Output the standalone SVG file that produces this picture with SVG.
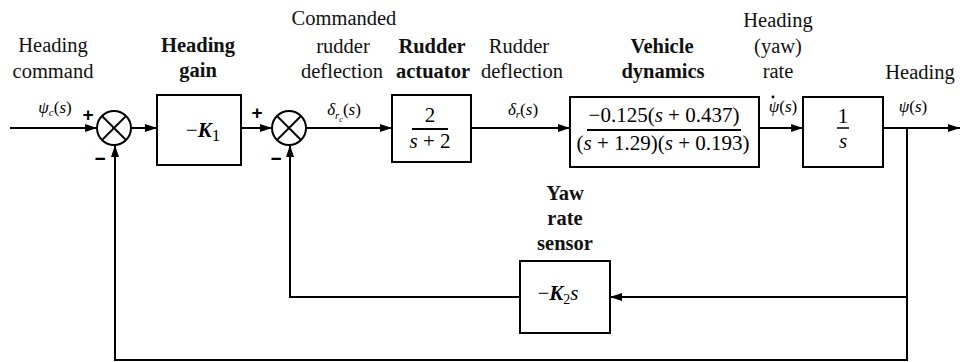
<svg xmlns="http://www.w3.org/2000/svg" width="966" height="362" viewBox="0 0 966 362">
<defs>
<marker id="arr" markerWidth="12" markerHeight="8" refX="12" refY="4" orient="auto" markerUnits="userSpaceOnUse">
<path d="M0,0 L12,4 L0,8 Z" fill="#000"/>
</marker>
<style>
.box{fill:#fff;stroke:#000;stroke-width:2}
.ln{fill:none;stroke:#000;stroke-width:2}
.lab{font-family:"Liberation Serif","Times New Roman",serif;font-size:20.5px;fill:#111;text-anchor:middle}
.b{font-weight:bold}
.m{font-family:"Liberation Serif","Times New Roman",serif;font-size:17px;font-style:italic;fill:#000;text-anchor:middle}
.tf{font-family:"Liberation Serif","Times New Roman",serif;font-size:21px;fill:#000;text-anchor:middle}
.sg{font-family:"Liberation Sans",Arial,sans-serif;font-size:19px;font-weight:bold;fill:#000;text-anchor:middle}
</style>
</defs>
<rect width="966" height="362" fill="#fff"/>

<g id="connectors">
<line class="ln" x1="10" y1="128" x2="97" y2="128" marker-end="url(#arr)"/>
<line class="ln" x1="131" y1="128" x2="157" y2="128" marker-end="url(#arr)"/>
<line class="ln" x1="241" y1="128" x2="272" y2="128" marker-end="url(#arr)"/>
<line class="ln" x1="306" y1="128" x2="392" y2="128" marker-end="url(#arr)"/>
<line class="ln" x1="471" y1="128" x2="570" y2="128" marker-end="url(#arr)"/>
<line class="ln" x1="759" y1="128" x2="803" y2="128" marker-end="url(#arr)"/>
<line class="ln" x1="883" y1="128" x2="960" y2="128" marker-end="url(#arr)"/>
<polyline class="ln" points="907,128 907,360 115,360 115,145" marker-end="url(#arr)"/>
<line class="ln" x1="907" y1="297" x2="610" y2="297" marker-end="url(#arr)"/>
<polyline class="ln" points="520,297 290,297 290,145" marker-end="url(#arr)"/>
</g>

<g id="sum1">
<circle class="box" cx="114" cy="128" r="17"/>
<line class="ln" x1="102" y1="116" x2="126" y2="140"/>
<line class="ln" x1="126" y1="116" x2="102" y2="140"/>
<text class="sg" x="88" y="121">+</text>
<text class="sg" x="100" y="165">−</text>
</g>

<g id="sum2">
<circle class="box" cx="289" cy="128" r="17"/>
<line class="ln" x1="277" y1="116" x2="301" y2="140"/>
<line class="ln" x1="301" y1="116" x2="277" y2="140"/>
<text class="sg" x="257" y="119">+</text>
<text class="sg" x="276" y="165">−</text>
</g>

<g id="heading-gain">
<rect class="box" x="157" y="95" width="84" height="70"/>
<text class="tf" x="203" y="137" font-size="22">−<tspan font-style="italic" font-weight="bold">K</tspan><tspan font-size="17" dy="4">1</tspan></text>
<text class="lab b" x="198" y="52">Heading</text>
<text class="lab b" x="198" y="77">gain</text>
</g>

<g id="rudder-actuator">
<rect class="box" x="392" y="95" width="79" height="67"/>
<text class="tf" x="430" y="122">2</text>
<line class="ln" x1="412" y1="129" x2="448" y2="129"/>
<text class="tf" x="430" y="148"><tspan font-style="italic">s</tspan> + 2</text>
<text class="lab b" x="432" y="53">Rudder</text>
<text class="lab b" x="433" y="78">actuator</text>
</g>

<g id="vehicle-dynamics">
<rect class="box" x="570" y="97" width="189" height="70"/>
<text class="tf" x="664" y="122">−0.125(<tspan font-style="italic">s</tspan> + 0.437)</text>
<line class="ln" x1="587" y1="130" x2="741" y2="130"/>
<text class="tf" x="663" y="150">(<tspan font-style="italic">s</tspan> + 1.29)(<tspan font-style="italic">s</tspan> + 0.193)</text>
<text class="lab b" x="662" y="53">Vehicle</text>
<text class="lab b" x="663" y="78">dynamics</text>
</g>

<g id="integrator">
<rect class="box" x="803" y="97" width="80" height="70"/>
<text class="tf" x="843" y="123" font-size="19">1</text>
<line class="ln" x1="837" y1="128" x2="849" y2="128" style="stroke-width:1.5"/>
<text class="tf" x="843" y="148" font-style="italic" font-size="19">s</text>
</g>

<g id="yaw-rate-sensor">
<rect class="box" x="520" y="261" width="90" height="72"/>
<text class="tf" x="558" y="300" font-size="19">−<tspan font-style="italic" font-weight="bold">K</tspan><tspan font-size="14" dy="4">2</tspan><tspan font-style="italic" dy="-4">s</tspan></text>
<text class="lab b" x="565" y="200">Yaw</text>
<text class="lab b" x="565" y="225">rate</text>
<text class="lab b" x="565" y="250">sensor</text>
</g>

<g id="labels">
<text class="lab" x="53" y="52">Heading</text>
<text class="lab" x="53" y="78">command</text>
<text class="lab" x="344" y="25">Commanded</text>
<text class="lab" x="343" y="53">rudder</text>
<text class="lab" x="342" y="78">deflection</text>
<text class="lab" x="519" y="53">Rudder</text>
<text class="lab" x="522" y="78">deflection</text>
<text class="lab" x="778" y="27">Heading</text>
<text class="lab" x="778" y="53">(yaw)</text>
<text class="lab" x="778" y="78">rate</text>
<text class="lab" x="920" y="79">Heading</text>
<text class="m" x="55" y="113">ψ<tspan font-size="11" dy="3">c</tspan><tspan dy="-3" font-style="normal">(</tspan>s<tspan font-style="normal">)</tspan></text>
<text class="m" x="344" y="115">δ<tspan font-size="11" dy="4">r</tspan><tspan font-size="8" dy="3">c</tspan><tspan dy="-7" font-style="normal">(</tspan>s<tspan font-style="normal">)</tspan></text>
<text class="m" x="523" y="115">δ<tspan font-size="11" dy="3">r</tspan><tspan dy="-3" font-style="normal">(</tspan>s<tspan font-style="normal">)</tspan></text>
<text class="m" x="783" y="112">ψ<tspan font-style="normal">(</tspan>s<tspan font-style="normal">)</tspan></text>
<circle cx="773" cy="97" r="1.4" fill="#000"/>
<text class="m" x="913" y="112">ψ<tspan font-style="normal">(</tspan>s<tspan font-style="normal">)</tspan></text>
</g>
</svg>
